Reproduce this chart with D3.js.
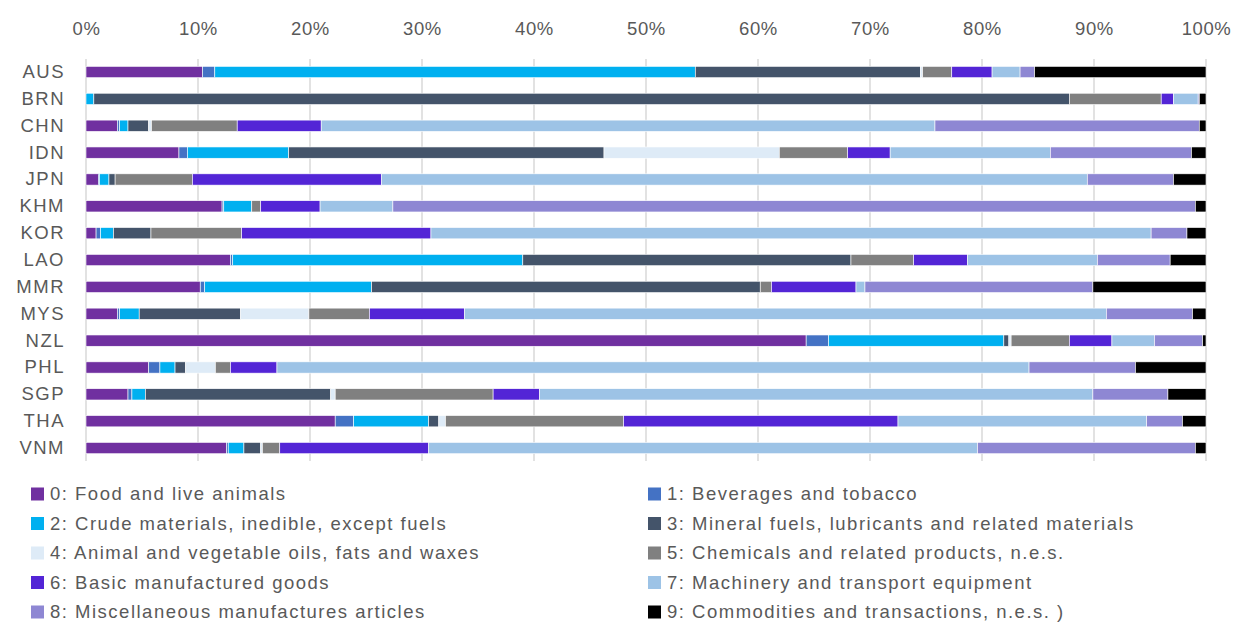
<!DOCTYPE html>
<html>
<head>
<meta charset="utf-8">
<script src="https://cdn.jsdelivr.net/npm/d3@7"></script>
<style>
  body { margin: 0; background: #fff; }
  text { font-family: "Liberation Sans", Arial, sans-serif; fill: #595959; }
</style>
</head>
<body>
<div id="chart"></div>
<script>
// stacked 100% export structure by SITC section
var countries = ["AUS","BRN","CHN","IDN","JPN","KHM","KOR","LAO","MMR","MYS","NZL","PHL","SGP","THA","VNM"];

var categories = [
  "0: Food and live animals",
  "1: Beverages and tobacco",
  "2: Crude materials, inedible, except fuels",
  "3: Mineral fuels, lubricants and related materials",
  "4: Animal and vegetable oils, fats and waxes",
  "5: Chemicals and related products, n.e.s.",
  "6: Basic manufactured goods",
  "7: Machinery and transport equipment",
  "8: Miscellaneous manufactures articles",
  "9: Commodities and transactions, n.e.s. )"
];

var colors = ["#7030A0","#4472C4","#00B0F0","#44546A","#DEEBF7","#808080","#5325D6","#9DC3E6","#8E87D3","#000000"];

// shares in %, one array per country, ordered as categories
var AUS = [10.4, 1.1, 42.9, 20.1, 0.2, 2.6, 3.6, 2.5, 1.3, 15.3];
var BRN = [0, 0, 0.7, 87.1, 0, 8.2, 1.1, 2.2, 0.1, 0.6];
var CHN = [2.8, 0.2, 0.75, 1.85, 0.25, 7.65, 7.5, 54.8, 23.6, 0.6];
var IDN = [8.3, 0.75, 9.05, 28.15, 15.65, 6.1, 3.8, 14.3, 12.6, 1.3];
var JPN = [1.1, 0.1, 0.85, 0.55, 0, 6.9, 16.9, 63.0, 7.7, 2.9];
var KHM = [12.15, 0.15, 2.5, 0, 0, 0.8, 5.3, 6.5, 71.65, 0.95];
var KOR = [0.9, 0.4, 1.15, 3.35, 0, 8.1, 16.9, 64.3, 3.2, 1.7];
var LAO = [12.9, 0.2, 25.9, 29.3, 0, 5.6, 4.8, 11.6, 6.5, 3.2];
var MMR = [10.2, 0.4, 14.9, 34.7, 0, 1.0, 7.55, 0.8, 20.35, 10.1];
var MYS = [2.8, 0.2, 1.75, 9.05, 6.1, 5.4, 8.5, 57.3, 7.7, 1.2];
var NZL = [64.3, 2.0, 15.65, 0.45, 0.2, 5.2, 3.8, 3.8, 4.3, 0.3];
var PHL = [5.6, 1.0, 1.35, 0.95, 2.65, 1.35, 4.15, 67.15, 9.5, 6.3];
var SGP = [3.75, 0.35, 1.2, 16.55, 0.4, 14.1, 4.15, 49.4, 6.7, 3.4];
var THA = [22.25, 1.65, 6.7, 0.9, 0.6, 15.9, 24.5, 22.2, 3.2, 2.1];
var VNM = [12.55, 0.15, 1.4, 1.5, 0.15, 1.55, 13.3, 49.0, 19.45, 0.95];

var xTicks = [0, 10, 20, 30, 40, 50, 60, 70, 80, 90, 100];

var shares = {AUS: AUS, BRN: BRN, CHN: CHN, IDN: IDN, JPN: JPN, KHM: KHM, KOR: KOR, LAO: LAO,
              MMR: MMR, MYS: MYS, NZL: NZL, PHL: PHL, SGP: SGP, THA: THA, VNM: VNM};

var width = 1235, height = 625;

var svg = d3.select("#chart").append("svg")
    .attr("width", width)
    .attr("height", height);

var x = d3.scaleLinear()
    .domain([0, 100])
    .range([86, 1206]);

var y = d3.scaleBand()
    .domain(countries)
    .range([58.6, 461.5])
    .paddingInner(0.58)
    .paddingOuter(0.29);

// build table for d3.stack
var table = countries.map(function(c) {
  var row = {country: c};
  categories.forEach(function(k, i) { row[k] = shares[c][i]; });
  return row;
});

var stack = d3.stack().keys(categories);
var series = stack(table);

// gridlines
svg.append("g")
  .selectAll("line")
  .data(xTicks)
  .enter().append("line")
    .attr("x1", function(d) { return x(d); })
    .attr("x2", function(d) { return x(d); })
    .attr("y1", 59)
    .attr("y2", 461)
    .attr("stroke", "#D9D9D9")
    .attr("stroke-width", 1.5);

// top axis labels
var xAxis = d3.axisTop(x)
    .tickValues(xTicks)
    .tickSize(0)
    .tickPadding(0)
    .tickFormat(function(d) { return d + "%"; });

var gx = svg.append("g")
    .attr("transform", "translate(0,35)")
    .call(xAxis);
gx.select(".domain").remove();
gx.selectAll("text")
    .style("font-size", "18.5px")
    .style("letter-spacing", "0.6px")
    .attr("fill", "#595959");

// country labels
var yAxis = d3.axisLeft(y).tickSize(0).tickPadding(0);
var gy = svg.append("g")
    .attr("transform", "translate(65,0)")
    .call(yAxis);
gy.select(".domain").remove();
gy.selectAll("text")
    .style("font-size", "18.5px")
    .style("letter-spacing", "1.5px")
    .attr("fill", "#595959");

// bars
svg.append("g")
  .selectAll("g")
  .data(series)
  .enter().append("g")
    .attr("fill", function(d, i) { return colors[i]; })
  .selectAll("rect")
  .data(function(d) { return d; })
  .enter().append("rect")
    .attr("x", function(d) { return x(d[0]); })
    .attr("width", function(d) { return Math.max(0, x(d[1]) - x(d[0])); })
    .attr("y", function(d) { return y(d.data.country); })
    .attr("height", y.bandwidth())
    .attr("stroke", "#fff")
    .attr("stroke-width", 0.6);

// legend, two columns
var legend = svg.append("g")
  .selectAll("g")
  .data(categories)
  .enter().append("g")
    .attr("transform", function(d, i) {
      var col = i % 2, row = Math.floor(i / 2);
      return "translate(" + (col === 0 ? 31 : 648) + "," + (494 + row * 29.5) + ")";
    });

legend.append("rect")
    .attr("x", 0)
    .attr("y", -6.5)
    .attr("width", 13)
    .attr("height", 13)
    .attr("fill", function(d, i) { return colors[i]; });

legend.append("text")
    .attr("x", 19)
    .attr("dy", "0.35em")
    .style("font-size", "18.5px")
    .style("letter-spacing", "1.5px")
    .text(function(d) { return d; });
</script>
</body>
</html>
